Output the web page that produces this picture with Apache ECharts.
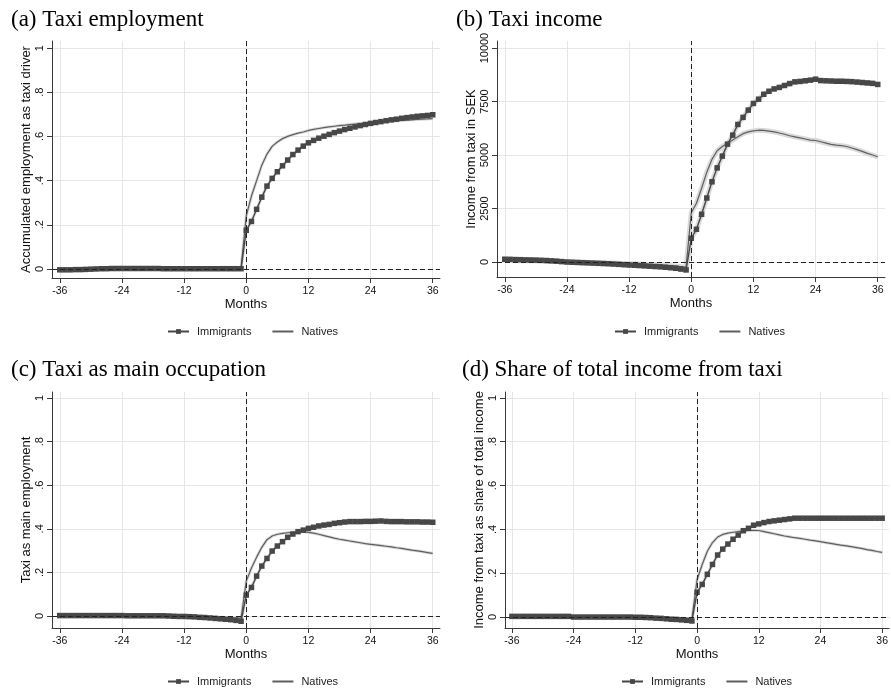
<!DOCTYPE html>
<html>
<head>
<meta charset="utf-8">
<script src="https://cdn.jsdelivr.net/npm/echarts@6/dist/echarts.min.js"></script>
<style>
  html, body { margin: 0; padding: 0; background: #fff; }
  #chart { width: 891px; height: 689px; }
</style>
</head>
<body>
<div id="chart"></div>
<script>
// Event-study estimates, months -36 .. 36 relative to entry into taxi driving
const monthTicks = [-36, -24, -12, 0, 12, 24, 36];
const shareTicks = [0, 0.2, 0.4, 0.6, 0.8, 1];
const shareTickLabels = ['0', '.2', '.4', '.6', '.8', '1'];
const incomeTicks = [0, 2500, 5000, 7500, 10000];
const incomeTickLabels = ['0', '2500', '5000', '7500', '10000'];

const panelTitles = ['(a) Taxi employment', '(b) Taxi income', '(c) Taxi as main occupation', '(d) Share of total income from taxi'];
const yTitles = ['Accumulated employment as taxi driver', 'Income from taxi in SEK', 'Taxi as main employment', 'Income from taxi as share of total income'];
const seriesNames = ['Immigrants', 'Natives'];

// (a) accumulated employment as taxi driver
const immA = [
  -0.004, -0.004, -0.004, -0.003, -0.003, -0.002, -0.001, 0.000, 0.001, 0.001, 0.002, 0.002,
  0.002, 0.002, 0.002, 0.002, 0.002, 0.002, 0.002, 0.002, 0.001, 0.001, 0.001, 0.001,
  0.001, 0.001, 0.001, 0.001, 0.001, 0.001, 0.001, 0.001, 0.001, 0.001, 0.001, 0.001,
  0.175, 0.215, 0.270, 0.325, 0.375, 0.410, 0.440, 0.467, 0.493, 0.518, 0.538, 0.556,
  0.571, 0.582, 0.592, 0.601, 0.609, 0.617, 0.624, 0.631, 0.637, 0.643, 0.649, 0.654,
  0.659, 0.663, 0.667, 0.671, 0.675, 0.678, 0.682, 0.685, 0.688, 0.691, 0.693, 0.695, 0.698
];
const natA = [
  -0.002, -0.002, -0.001, -0.001, 0.000, 0.001, 0.002, 0.003, 0.003, 0.004, 0.004, 0.004,
  0.005, 0.005, 0.005, 0.005, 0.006, 0.006, 0.006, 0.006, 0.005, 0.005, 0.005, 0.005,
  0.005, 0.005, 0.005, 0.006, 0.006, 0.007, 0.007, 0.008, 0.008, 0.008, 0.008, 0.007,
  0.240, 0.330, 0.400, 0.470, 0.520, 0.555, 0.575, 0.590, 0.600, 0.608, 0.615, 0.620,
  0.627, 0.632, 0.636, 0.640, 0.643, 0.646, 0.649, 0.651, 0.654, 0.656, 0.658, 0.660,
  0.662, 0.664, 0.666, 0.668, 0.669, 0.671, 0.672, 0.674, 0.675, 0.677, 0.678, 0.679, 0.681
];

// (b) income from taxi, SEK
const immB = [
  130, 125, 115, 110, 100, 95, 90, 80, 70, 55, 40, 20,
  0, -10, -20, -30, -40, -50, -60, -70, -80, -95, -110, -125,
  -140, -150, -165, -180, -195, -210, -225, -245, -265, -290, -330, -370,
  1110, 1530, 2230, 2990, 3750, 4400, 4950, 5510, 5930, 6430, 6760, 7100,
  7410, 7610, 7840, 7980, 8090, 8160, 8250, 8340, 8420, 8440, 8470, 8500,
  8545, 8480, 8470, 8460, 8450, 8450, 8440, 8430, 8410, 8390, 8370, 8350, 8300
];
const natB = [
  80, 75, 70, 65, 60, 55, 50, 45, 40, 30, 20, 10,
  0, -5, -10, -15, -20, -25, -30, -35, -40, -45, -55, -65,
  -75, -85, -95, -105, -115, -125, -140, -155, -170, -190, -215, -240,
  2300, 2750, 3450, 4200, 4800, 5200, 5400, 5550, 5700, 5850, 6000, 6080,
  6130, 6160, 6150, 6120, 6080, 6030, 5970, 5900, 5850, 5800, 5750, 5700,
  5680, 5620, 5560, 5500, 5460, 5440, 5400, 5330, 5250, 5170, 5080, 5000, 4920
];

// (c) taxi as main occupation
const immC = [
  0.002, 0.002, 0.002, 0.002, 0.002, 0.002, 0.002, 0.002, 0.002, 0.002, 0.002, 0.002,
  0.002, 0.001, 0.001, 0.001, 0.001, 0.001, 0.001, 0.001, 0.001, 0.000, -0.001, -0.002,
  -0.002, -0.003, -0.004, -0.006, -0.007, -0.009, -0.011, -0.013, -0.015, -0.017, -0.020, -0.024,
  0.096, 0.131, 0.183, 0.229, 0.264, 0.298, 0.321, 0.341, 0.361, 0.376, 0.387, 0.394,
  0.402, 0.407, 0.413, 0.417, 0.420, 0.425, 0.428, 0.431, 0.433, 0.433, 0.433, 0.434,
  0.434, 0.435, 0.436, 0.434, 0.433, 0.433, 0.433, 0.432, 0.432, 0.432, 0.431, 0.431, 0.430
];
const natC = [
  0.004, 0.004, 0.004, 0.004, 0.004, 0.004, 0.004, 0.004, 0.004, 0.004, 0.004, 0.004,
  0.004, 0.004, 0.004, 0.004, 0.004, 0.004, 0.004, 0.004, 0.003, 0.003, 0.002, 0.001,
  0.001, 0.000, -0.001, -0.002, -0.003, -0.004, -0.005, -0.006, -0.007, -0.008, -0.009, -0.010,
  0.160, 0.220, 0.270, 0.315, 0.350, 0.367, 0.375, 0.379, 0.382, 0.384, 0.386, 0.386,
  0.384, 0.380, 0.375, 0.369, 0.363, 0.357, 0.352, 0.348, 0.344, 0.340, 0.336, 0.332,
  0.329, 0.326, 0.323, 0.320, 0.317, 0.313, 0.310, 0.306, 0.302, 0.299, 0.295, 0.291, 0.287
];

// (d) share of total income from taxi
const immD = [
  0.003, 0.003, 0.003, 0.003, 0.003, 0.003, 0.003, 0.003, 0.003, 0.003, 0.003, 0.003,
  0.000, 0.000, 0.000, 0.000, 0.000, 0.000, 0.000, 0.000, 0.000, 0.000, 0.000, 0.000,
  -0.001, -0.001, -0.002, -0.003, -0.005, -0.006, -0.008, -0.010, -0.011, -0.013, -0.015, -0.018,
  0.113, 0.149, 0.195, 0.240, 0.283, 0.310, 0.333, 0.355, 0.374, 0.394, 0.405, 0.419,
  0.425, 0.431, 0.436, 0.439, 0.442, 0.445, 0.448, 0.451, 0.451, 0.451, 0.451, 0.451,
  0.451, 0.451, 0.451, 0.451, 0.451, 0.451, 0.451, 0.451, 0.451, 0.451, 0.451, 0.451, 0.451
];
const natD = [
  0.004, 0.004, 0.004, 0.004, 0.004, 0.004, 0.004, 0.004, 0.004, 0.004, 0.004, 0.004,
  0.004, 0.004, 0.004, 0.004, 0.004, 0.004, 0.004, 0.004, 0.003, 0.003, 0.002, 0.002,
  0.001, 0.001, 0.000, -0.001, -0.002, -0.002, -0.003, -0.004, -0.005, -0.006, -0.007, -0.008,
  0.170, 0.240, 0.300, 0.340, 0.365, 0.377, 0.383, 0.387, 0.390, 0.393, 0.395, 0.396,
  0.395, 0.390, 0.385, 0.380, 0.375, 0.370, 0.366, 0.362, 0.359, 0.355, 0.351, 0.348,
  0.344, 0.340, 0.336, 0.332, 0.328, 0.325, 0.321, 0.317, 0.313, 0.308, 0.304, 0.299, 0.295
];

const months = [];
for (let m = -36; m <= 36; m++) months.push(m);
const pair = arr => months.map((m, i) => [m, arr[i]]);

const panels = [
  { imm: immA, nat: natA, yMin: -0.041, yMax: 1.032, ticks: shareTicks, labels: shareTickLabels,
    grid: { left: 52, top: 41, width: 388, height: 237 }, xMin: -37.5, xMax: 37.4,
    title: { left: 6, top: 3 }, legendLeft: 162, legendTop: 321, halo: 3 },
  { imm: immB, nat: natB, yMin: -700, yMax: 10330, ticks: incomeTicks, labels: incomeTickLabels,
    grid: { left: 497, top: 41, width: 388, height: 236 }, xMin: -37.5, xMax: 37.4,
    title: { left: 451, top: 3 }, legendLeft: 609, legendTop: 321, halo: 5 },
  { imm: immC, nat: natC, yMin: -0.055, yMax: 1.0275, ticks: shareTicks, labels: shareTickLabels,
    grid: { left: 52, top: 392, width: 388, height: 236 }, xMin: -37.5, xMax: 37.4,
    title: { left: 6, top: 353 }, legendLeft: 162, legendTop: 671, halo: 3 },
  { imm: immD, nat: natD, yMin: -0.050, yMax: 1.027, ticks: shareTicks, labels: shareTickLabels,
    grid: { left: 505, top: 392, width: 387, height: 236 }, xMin: -37.35, xMax: 37.35,
    title: { left: 457, top: 353 }, legendLeft: 616, legendTop: 671, halo: 3 }
];

const AXIS = '#3a3a3a';
const GRIDC = '#e6e6e6';
const IMM = '#474747';
const NAT = '#5e5e5e';
const SANS = 'Liberation Sans, Arial, sans-serif';

const option = {
  backgroundColor: '#ffffff',
  animation: false,
  title: [], grid: [], xAxis: [], yAxis: [], legend: [], series: []
};

panels.forEach((p, i) => {
  option.title.push({
    text: panelTitles[i], left: p.title.left, top: p.title.top,
    textStyle: { fontFamily: 'Liberation Serif, Times New Roman, serif', fontSize: 23, fontWeight: 'normal', color: '#000' }
  });
  option.grid.push(Object.assign({ containLabel: false }, p.grid));
  option.xAxis.push({
    type: 'value', gridIndex: i, min: p.xMin, max: p.xMax,
    name: 'Months', nameLocation: 'middle', nameGap: 18,
    nameTextStyle: { fontFamily: SANS, fontSize: 13, color: '#111' },
    axisLine: { show: true, onZero: false, lineStyle: { color: AXIS, width: 1 } },
    axisTick: { show: true, length: 5, customValues: monthTicks, lineStyle: { color: AXIS } },
    axisLabel: { customValues: monthTicks, margin: 8, fontFamily: SANS, fontSize: 10.5, color: '#111',
      formatter: v => String(Math.round(v)) },
    splitLine: { show: true, lineStyle: { color: GRIDC, width: 1 } }
  });
  option.yAxis.push({
    type: 'value', gridIndex: i, min: p.yMin, max: p.yMax,
    name: yTitles[i], nameLocation: 'middle', nameGap: 17,
    nameTextStyle: { fontFamily: SANS, fontSize: 13, color: '#111' },
    axisLine: { show: true, onZero: false, lineStyle: { color: AXIS, width: 1 } },
    axisTick: { show: true, length: 5, customValues: p.ticks, lineStyle: { color: AXIS } },
    axisLabel: { customValues: p.ticks, rotate: 90, margin: 7, fontFamily: SANS, fontSize: 11, color: '#111',
      formatter: v => { const k = p.ticks.findIndex(t => Math.abs(t - v) < 1e-6); return k >= 0 ? p.labels[k] : ''; } },
    splitLine: { show: true, lineStyle: { color: GRIDC, width: 1 } }
  });
  option.legend.push({
    data: [
      { name: 'Immigrants' },
      { name: 'Natives', itemStyle: { opacity: 0 } }
    ],
    left: p.legendLeft, top: p.legendTop, itemGap: 20,
    itemWidth: 21, itemHeight: 6,
    textStyle: { fontFamily: SANS, fontSize: 11, color: '#222', padding: [0, 0, 0, 3] }
  });

  // light confidence halo behind each estimate line
  [p.imm, p.nat].forEach((arr, k) => {
    option.series.push({
      name: seriesNames[k] + ' CI', type: 'line', xAxisIndex: i, yAxisIndex: i,
      data: pair(arr), showSymbol: false, symbol: 'none', silent: true, z: 1,
      lineStyle: { color: '#dadada', width: p.halo }
    });
  });

  option.series.push({
    name: 'Natives', type: 'line', xAxisIndex: i, yAxisIndex: i,
    data: pair(p.nat), symbol: 'none', z: 3,
    lineStyle: { color: NAT, width: 1.2 }, itemStyle: { color: NAT },
    markLine: {
      silent: true, symbol: ['none', 'none'], label: { show: false },
      lineStyle: { color: '#222', type: [5, 3], width: 1 },
      data: [{ xAxis: 0 }, { yAxis: 0 }]
    }
  });
  option.series.push({
    name: 'Immigrants', type: 'line', xAxisIndex: i, yAxisIndex: i,
    data: pair(p.imm), symbol: 'rect', symbolSize: 5.5, showAllSymbol: true, z: 4,
    lineStyle: { color: IMM, width: 1.4 }, itemStyle: { color: IMM }
  });
});

const chart = echarts.init(document.getElementById('chart'), null, { renderer: 'canvas' });
chart.setOption(option);
</script>
</body>
</html>
